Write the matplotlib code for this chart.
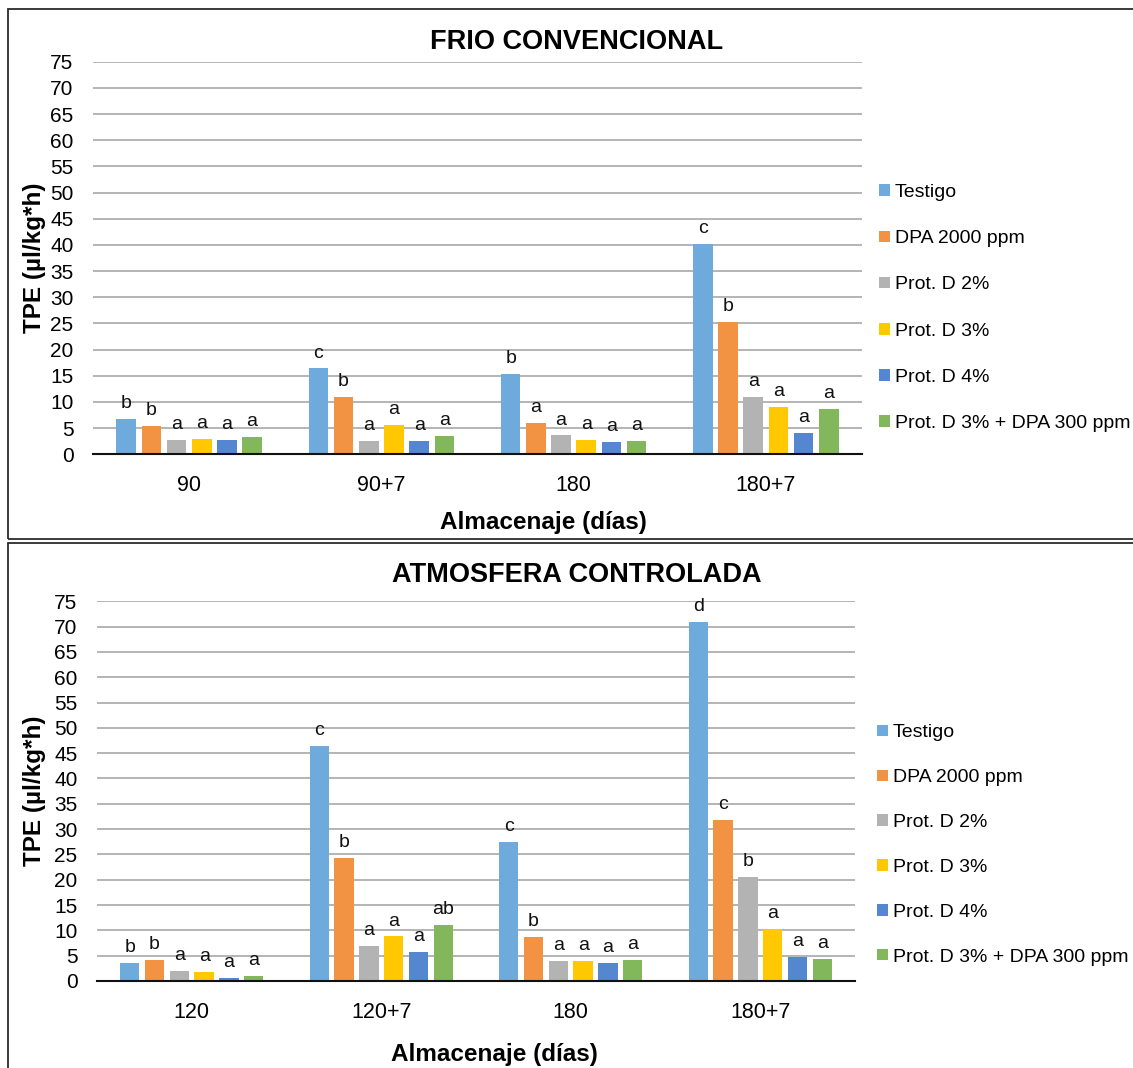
import matplotlib
matplotlib.use("Agg")
import matplotlib.pyplot as plt
from matplotlib.patches import Rectangle
import numpy as np

plt.rcParams['font.family'] = ['Liberation Sans', 'DejaVu Sans']

series_names = ["Testigo", "DPA 2000 ppm", "Prot. D 2%", "Prot. D 3%", "Prot. D 4%",
                "Prot. D 3% + DPA 300 ppm"]
colors = ['#6EABDC', '#F29243', '#B3B3B3', '#FFC800', '#5587D0', '#82B85B']

# ---- Top chart: FRIO CONVENCIONAL ----
top_categories = ["90", "90+7", "180", "180+7"]
top_testigo = [6.8, 16.4, 15.4, 40.2]
top_dpa = [5.5, 10.9, 5.9, 25.2]
top_d2 = [2.7, 2.6, 3.6, 11.0]
top_d3 = [2.9, 5.6, 2.8, 9.1]
top_d4 = [2.7, 2.6, 2.3, 4.1]
top_mix = [3.4, 3.5, 2.6, 8.6]
top_let_testigo = ["b", "c", "b", "c"]
top_let_dpa = ["b", "b", "a", "b"]
top_let_d2 = ["a", "a", "a", "a"]
top_let_d3 = ["a", "a", "a", "a"]
top_let_d4 = ["a", "a", "a", "a"]
top_let_mix = ["a", "a", "a", "a"]

# ---- Bottom chart: ATMOSFERA CONTROLADA ----
bot_categories = ["120", "120+7", "180", "180+7"]
bot_testigo = [3.6, 46.4, 27.5, 70.9]
bot_dpa = [4.2, 24.3, 8.7, 31.9]
bot_d2 = [2.0, 6.9, 3.9, 20.5]
bot_d3 = [1.7, 8.8, 3.9, 10.3]
bot_d4 = [0.65, 5.8, 3.6, 4.7]
bot_mix = [0.9, 11.0, 4.1, 4.4]
bot_let_testigo = ["b", "c", "c", "d"]
bot_let_dpa = ["b", "b", "b", "c"]
bot_let_d2 = ["a", "a", "a", "b"]
bot_let_d3 = ["a", "a", "a", "a"]
bot_let_d4 = ["a", "a", "a", "a"]
bot_let_mix = ["a", "ab", "a", "a"]

yticks = list(range(0, 80, 5))

W, H = 1133, 1068
fig = plt.figure(figsize=(W / 100, H / 100), dpi=100)


def fx(px):
    return px / W


def fy(py):
    return 1 - py / H


# panel borders
fig.patches.append(Rectangle((fx(8), fy(539)), 1.0, fy(9) - fy(539), transform=fig.transFigure,
                             fill=False, edgecolor='#2b2b2b', linewidth=1.3, zorder=0))
fig.patches.append(Rectangle((fx(8), -0.02), 1.0, fy(543) + 0.02, transform=fig.transFigure,
                             fill=False, edgecolor='#2b2b2b', linewidth=1.3, zorder=0))


def draw(rect, cats, data, letters, title, title_y, xlabel_xy, legend_xy, spacing):
    ax = fig.add_axes(rect)
    x = np.arange(len(cats))
    pitch = 0.131
    width = 0.102
    handles = []
    for i, (vals, lets) in enumerate(zip(data, letters)):
        off = (i - 2.5) * pitch
        bars = ax.bar(x + off, vals, width=width, color=colors[i], zorder=3, label=series_names[i])
        handles.append(bars)
        for xi, v, t in zip(x + off, vals, lets):
            ax.annotate(t, (xi, v), xytext=(0, 5), textcoords='offset points',
                        ha='center', va='bottom', fontsize=14, color='#111111')
    ax.set_xlim(-0.5, len(cats) - 0.5)
    ax.set_ylim(0, 75)
    ax.set_yticks(yticks)
    ax.set_xticks(x)
    ax.set_xticklabels(cats)
    ax.tick_params(axis='y', length=0, pad=14, labelsize=15)
    ax.tick_params(axis='x', length=0, pad=15, labelsize=15.5)
    ax.yaxis.grid(True, color='#A8A8A8', linewidth=1.2, zorder=0)
    ax.set_axisbelow(True)
    for s in ['top', 'right', 'left']:
        ax.spines[s].set_visible(False)
    ax.spines['bottom'].set_color('#111111')
    ax.spines['bottom'].set_linewidth(1.5)
    ax.spines['bottom'].set_zorder(4)
    ax.set_ylabel("TPE (µl/kg*h)", fontsize=17.5, fontweight='bold')
    ax.yaxis.set_label_coords(fx(46), 0.5 * (rect[1] + rect[1] + rect[3]),
                              transform=fig.transFigure)
    fig.text(fx(577), fy(title_y), title, ha='center', va='center', fontsize=19.5,
             fontweight='bold')
    fig.text(fx(xlabel_xy[0]), fy(xlabel_xy[1]), "Almacenaje (días)", ha='center', va='center',
             fontsize=17.5, fontweight='bold')
    ax.legend(handles=handles, loc='center left',
              bbox_to_anchor=(fx(legend_xy[0]), fy(legend_xy[1])),
              bbox_transform=fig.transFigure, frameon=False, fontsize=14,
              handlelength=0.55, handleheight=0.55, handletextpad=0.25,
              labelspacing=spacing, borderpad=0, borderaxespad=0)
    return ax


draw([fx(93), fy(454.3), fx(862) - fx(93), fy(61.7) - fy(454.3)], top_categories,
     [top_testigo, top_dpa, top_d2, top_d3, top_d4, top_mix],
     [top_let_testigo, top_let_dpa, top_let_d2, top_let_d3, top_let_d4, top_let_mix],
     "FRIO CONVENCIONAL", 42, (543, 522), (879, 308), 1.5)

draw([fx(97), fy(981), fx(855) - fx(97), fy(601.3) - fy(981)], bot_categories,
     [bot_testigo, bot_dpa, bot_d2, bot_d3, bot_d4, bot_mix],
     [bot_let_testigo, bot_let_dpa, bot_let_d2, bot_let_d3, bot_let_d4, bot_let_mix],
     "ATMOSFERA CONTROLADA", 575, (494, 1054), (877, 845), 1.43)

fig.savefig("out.png", dpi=100)
